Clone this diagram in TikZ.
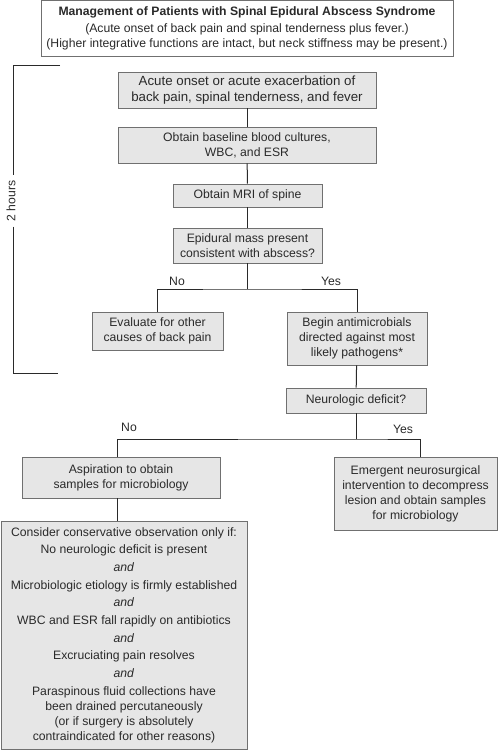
\documentclass[tikz,border=0pt]{standalone}
\usepackage{fontspec}
\setmainfont{Liberation Sans}
\definecolor{boxgray}{HTML}{E6E6E6}
\definecolor{edgegray}{HTML}{707070}
\definecolor{inkgray}{HTML}{2A2A2A}
\begin{document}
\begin{tikzpicture}[x=1pt,y=-1pt,
  txt/.style={font=\fontsize{12.2}{15}\selectfont, text=inkgray},
  box/.style={txt, draw=edgegray, fill=boxgray, line width=0.9pt, align=center, inner sep=0pt},
  link/.style={draw=inkgray, line width=1pt}]
\useasboundingbox (0,0) rectangle (498,750);
% title
\node[box, fill=white, minimum width=412, minimum height=56] (title) at (247,28)
  {\textbf{Management of Patients with Spinal Epidural Abscess Syndrome}\\[2pt]
   (Acute onset of back pain and spinal tenderness plus fever.)\\
   (Higher integrative functions are intact, but neck stiffness may be present.)};
% main column
\node[box, font=\fontsize{13.3}{16}\selectfont, minimum width=258, minimum height=36] (onset) at (247,90)
  {Acute onset or acute exacerbation of\\ back pain, spinal tenderness, and fever};
\node[box, minimum width=258, minimum height=36] (cultures) at (247,145)
  {Obtain baseline blood cultures,\\ WBC, and ESR};
\node[box, minimum width=149, minimum height=23] (mri) at (247.5,195.5)
  {Obtain MRI of spine};
\node[box, minimum width=149, minimum height=35] (mass) at (247.5,245.5)
  {Epidural mass present\\ consistent with abscess?};
\node[box, minimum width=131, minimum height=38] (other) at (157.5,331)
  {Evaluate for other\\ causes of back pain};
\node[box, minimum width=140, minimum height=53] (abx) at (357,338.5)
  {Begin antimicrobials\\ directed against most\\ likely pathogens*};
\node[box, minimum width=140, minimum height=25] (deficit) at (356,400.5)
  {Neurologic deficit?};
\node[box, minimum width=198, minimum height=41] (aspir) at (121,477.5)
  {Aspiration to obtain\\ samples for microbiology};
\node[box, minimum width=163, minimum height=73] (surg) at (415.5,493.5)
  {Emergent neurosurgical\\ intervention to decompress\\ lesion and obtain samples\\ for microbiology};
\node[box, minimum width=246, minimum height=228] (observe) at (124,635)
  {Consider conservative observation only if:\\[2.7pt]
   No neurologic deficit is present\\[2.7pt]
   \textit{and}\\[2.7pt]
   Microbiologic etiology is firmly established\\[2.7pt]
   \textit{and}\\[2.7pt]
   WBC and ESR fall rapidly on antibiotics\\[2.7pt]
   \textit{and}\\[2.7pt]
   Excruciating pain resolves\\[2.7pt]
   \textit{and}\\[2.7pt]
   Paraspinous fluid collections have\\ been drained percutaneously\\
   (or if surgery is absolutely\\ contraindicated for other reasons)};
% connectors
\coordinate (split1) at (mass.south |- 0,289);
\coordinate (split2) at (deficit.south |- 0,439);
\draw[link] (onset) -- (cultures);
\draw[link] (cultures) -- (mri);
\draw[link] (mri) -- (mass);
\draw[link] (mass) -- (split1);
\draw[link] (other.north) |- (split1) -| (abx.north);
\draw[link] (abx) -- (deficit);
\draw[link] (deficit) -- (split2);
\draw[link] (aspir.north -| 117,0) |- (split2) -| (surg.north -| 420,0);
\draw[link] (aspir.south -| 117,0) -- (observe.north -| 117,0);
\node[txt] (no1) at (177,281) {No};
\node[txt] (yes1) at (331,281) {Yes};
\node[txt] (no2) at (129,427) {No};
\node[txt] (yes2) at (403,429) {Yes};
% time bracket
\node[txt, rotate=90, inner sep=5pt] (hours) at (11,201) {2 hours};
\draw[link] (60,65) -- (13,65) -- (13,0 |- hours.east);
\draw[link] (13,0 |- hours.west) -- (13,373) -- (58,373);
\end{tikzpicture}
\end{document}
